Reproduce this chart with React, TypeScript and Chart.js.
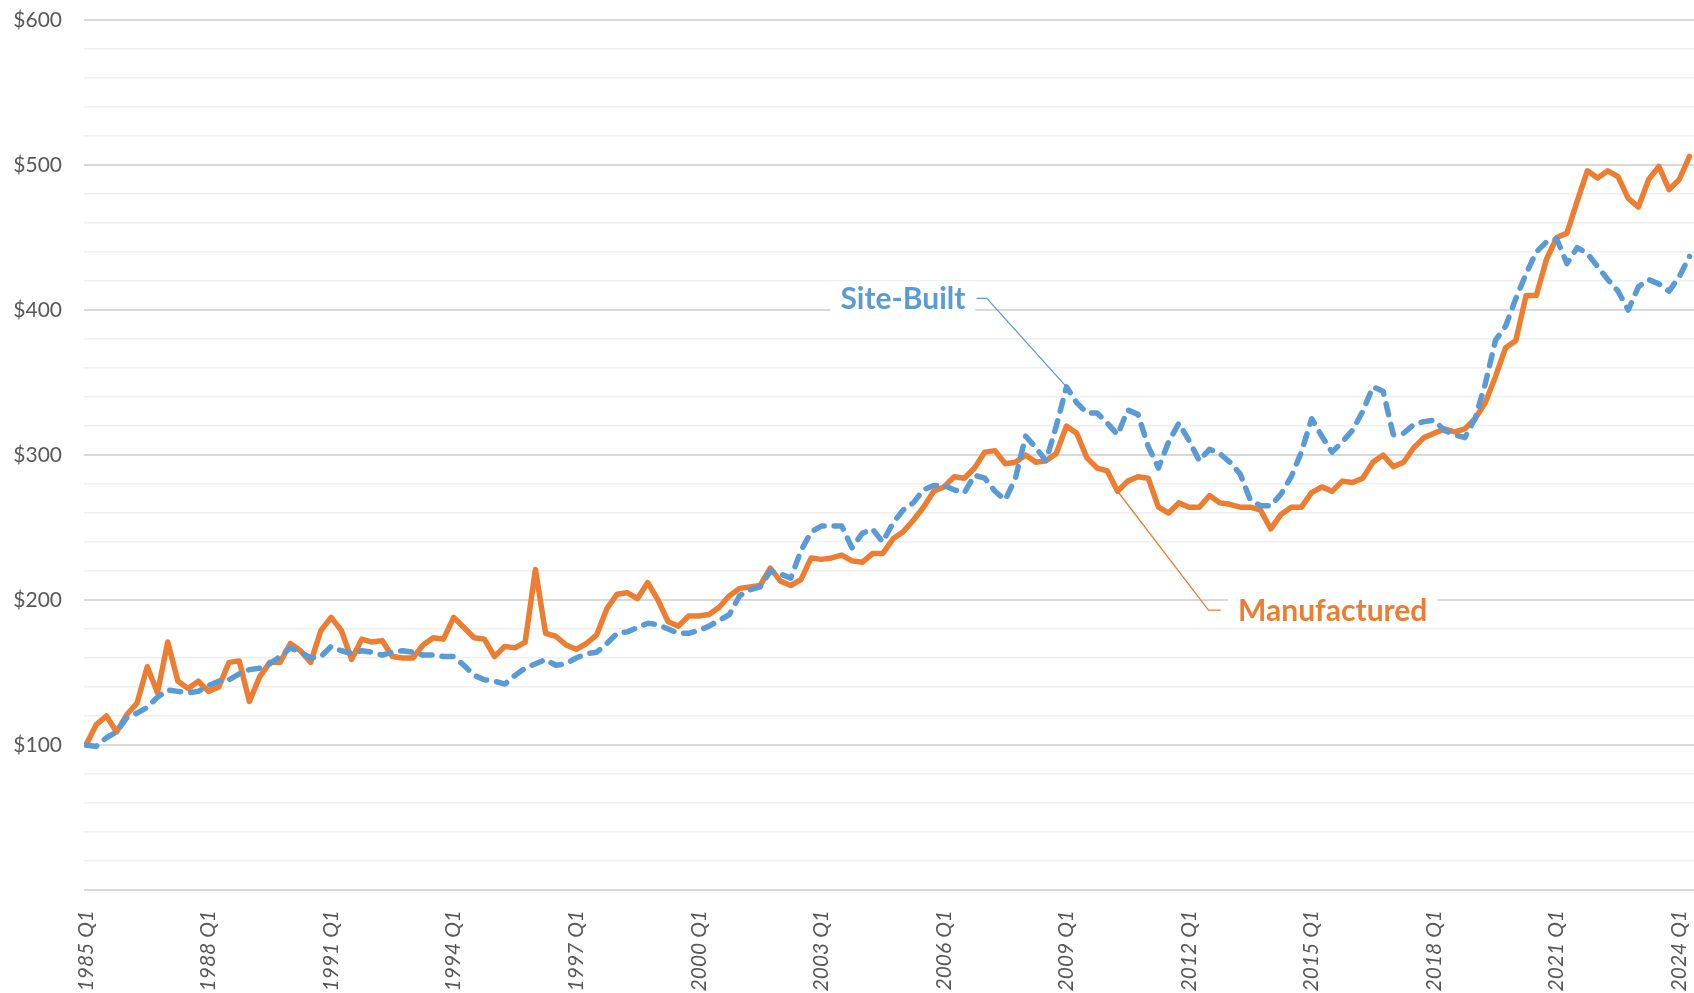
import React, { useEffect, useRef } from "react";
import { Chart, registerables } from "chart.js";

Chart.register(...registerables);

// ---- categories ----
const firstYear = 1985;
const quarterCount = 158; // 1985 Q1 .. 2024 Q2
const quarters: string[] = Array.from(
  { length: quarterCount },
  (_, i) => `${firstYear + Math.floor(i / 4)} Q${(i % 4) + 1}`
);

const tickLabels = [
  "1985 Q1", "1988 Q1", "1991 Q1", "1994 Q1", "1997 Q1", "2000 Q1", "2003 Q1",
  "2006 Q1", "2009 Q1", "2012 Q1", "2015 Q1", "2018 Q1", "2021 Q1", "2024 Q1",
];

const yTickValues = [100, 200, 300, 400, 500, 600];

// ---- series (index, 1985 Q1 = 100) ----
const manufactured = [
  100, 114, 120, 109, 121, 129, 154, 136, 171, 144, 139, 144, 137, 140, 157, 158,
  130, 147, 157, 157, 170, 165, 157, 179, 188, 179, 159, 173, 171, 172, 161, 160,
  160, 169, 174, 173, 188, 181, 174, 173, 161, 168, 167, 171, 221, 177, 175, 169,
  166, 170, 176, 194, 204, 205, 201, 212, 200, 185, 182, 189, 189, 190, 195, 203,
  208, 209, 210, 222, 213, 210, 214, 229, 228, 229, 231, 227, 226, 232, 232, 242,
  247, 255, 264, 275, 278, 285, 284, 291, 302, 303, 294, 295, 300, 295, 296, 301,
  320, 315, 298, 291, 289, 275, 282, 285, 284, 264, 260, 267, 264, 264, 272, 267,
  266, 264, 264, 262, 249, 259, 264, 264, 274, 278, 275, 282, 281, 284, 295, 300,
  292, 295, 305, 312, 315, 318, 316, 318, 325, 336, 354, 374, 379, 410, 410, 435,
  450, 453, 475, 496, 491, 496, 492, 477, 471, 490, 499, 483, 490, 506,
];

const siteBuilt = [
  100, 99, 105, 109, 119, 122, 126, 133, 138, 137, 136, 137, 141, 144, 145, 149,
  152, 153, 156, 161, 167, 164, 160, 161, 168, 165, 163, 165, 164, 162, 164, 165,
  164, 162, 162, 161, 161, 155, 148, 145, 144, 142, 148, 153, 156, 159, 155, 156,
  160, 163, 164, 170, 177, 178, 181, 184, 183, 180, 177, 177, 179, 182, 186, 190,
  203, 207, 209, 220, 218, 215, 234, 247, 251, 251, 251, 236, 246, 249, 240, 253,
  262, 267, 276, 279, 279, 276, 274, 286, 284, 275, 269, 284, 313, 305, 296, 320,
  347, 336, 329, 329, 322, 314, 331, 328, 306, 291, 309, 322, 310, 296, 304, 301,
  295, 287, 269, 265, 265, 273, 285, 302, 325, 313, 302, 309, 317, 330, 347, 344,
  314, 315, 321, 323, 324, 317, 314, 312, 325, 349, 379, 389, 408, 425, 440, 447,
  449, 432, 443, 439, 430, 421, 413, 400, 416, 421, 418, 413, 423, 437,
];

// ---- callout labels (data coordinates) ----
const siteBuiltNote = {
  text: "Site-Built", index: 96, elbowX: 88.2, stubX: 87.2, labelX: 86.1, labelY: 408,
  align: "right" as CanvasTextAlign, color: "#5B9BD5",
};
const manufacturedNote = {
  text: "Manufactured", index: 101, elbowX: 109.9, stubX: 111.1, labelX: 112.8, labelY: 193,
  align: "left" as CanvasTextAlign, color: "#ED7D31",
};

const FONT = "Lato, 'Open Sans', 'DejaVu Sans', sans-serif";
const ORANGE = "#ED7D31";
const BLUE = "#5B9BD5";
const GREY_TEXT = "#595959";

const calloutPlugin = {
  id: "callouts",
  afterDatasetsDraw(chart: any) {
    const { ctx, scales } = chart;
    const x = scales.x;
    const y = scales.y;
    const items = [
      { note: siteBuiltNote, values: siteBuilt },
      { note: manufacturedNote, values: manufactured },
    ];
    ctx.save();
    for (const { note, values } of items) {
      const px = x.getPixelForValue(note.index);
      const py = y.getPixelForValue(values[note.index]);
      const ex = x.getPixelForValue(note.elbowX);
      const ey = y.getPixelForValue(note.labelY);
      const sx = x.getPixelForValue(note.stubX);
      const lx = x.getPixelForValue(note.labelX);

      ctx.font = `bold 30px ${FONT}`;
      const w = ctx.measureText(note.text).width;
      const left = note.align === "right" ? lx - w : lx;
      // white label box
      ctx.fillStyle = "#ffffff";
      ctx.fillRect(left - 10, ey - 17, w + 20, 34);

      // leader line
      ctx.strokeStyle = note.color;
      ctx.lineWidth = 1.3;
      ctx.beginPath();
      ctx.moveTo(px, py);
      ctx.lineTo(ex, ey);
      ctx.lineTo(sx, ey);
      ctx.stroke();

      ctx.fillStyle = note.color;
      ctx.textAlign = note.align;
      ctx.textBaseline = "middle";
      ctx.fillText(note.text, lx, ey + 1);
    }
    ctx.restore();
  },
};

export default function App() {
  const canvasRef = useRef<HTMLCanvasElement | null>(null);

  useEffect(() => {
    if (!canvasRef.current) return;
    const tickIndices = tickLabels.map((l) => quarters.indexOf(l));
    const chart = new Chart(canvasRef.current, {
      type: "line",
      data: {
        datasets: [
          {
            label: "Site-Built",
            data: siteBuilt.map((v, i) => ({ x: i, y: v })),
            borderColor: BLUE,
            borderWidth: 5.5,
            borderDash: [11, 10],
            borderCapStyle: "round",
            borderJoinStyle: "round",
            pointRadius: 0,
            fill: false,
            tension: 0,
          },
          {
            label: "Manufactured",
            data: manufactured.map((v, i) => ({ x: i, y: v })),
            borderColor: ORANGE,
            borderWidth: 5.5,
            borderCapStyle: "round",
            borderJoinStyle: "round",
            pointRadius: 0,
            fill: false,
            tension: 0,
          },
        ],
      },
      options: {
        animation: false,
        responsive: true,
        maintainAspectRatio: false,
        layout: { padding: { top: 20, right: 0, left: 0, bottom: 0 } },
        plugins: {
          legend: { display: false },
          tooltip: { enabled: false },
        },
        scales: {
          x: {
            type: "linear",
            min: -0.196,
            max: 157.44,
            border: { display: false },
            grid: { display: false, drawTicks: false },
            afterBuildTicks: (scale: any) => {
              scale.ticks = tickIndices.map((v) => ({ value: v }));
            },
            afterFit: (scale: any) => {
              scale.height = 103;
              scale.paddingLeft = 0;
              scale.paddingRight = 0;
            },
            ticks: {
              autoSkip: false,
              minRotation: 90,
              maxRotation: 90,
              padding: 20,
              color: GREY_TEXT,
              font: { family: FONT, size: 21, style: "italic" },
              callback: (value: any) => quarters[Math.round(Number(value))] ?? "",
            },
          },
          y: {
            min: 0,
            max: 600,
            border: { display: false },
            grid: {
              drawTicks: false,
              color: (c: any) => (c.tick && c.tick.value % 100 === 0 ? "#d9d9d9" : "#efefef"),
              lineWidth: (c: any) => (c.tick && c.tick.value % 100 === 0 ? 2 : 1.5),
            },
            afterFit: (scale: any) => {
              scale.width = 84;
              scale.paddingTop = 0;
              scale.paddingBottom = 0;
            },
            ticks: {
              stepSize: 20,
              padding: 22,
              color: GREY_TEXT,
              font: { family: FONT, size: 21 },
              callback: (value: any) =>
                yTickValues.includes(Number(value)) ? `$${value}` : "",
            },
          },
        },
      },
      plugins: [calloutPlugin],
    });
    return () => chart.destroy();
  }, []);

  return (
    <div
      style={{
        position: "absolute",
        left: 0,
        top: 0,
        width: 1694,
        height: 993,
        background: "#ffffff",
      }}
    >
      <canvas ref={canvasRef} />
    </div>
  );
}
